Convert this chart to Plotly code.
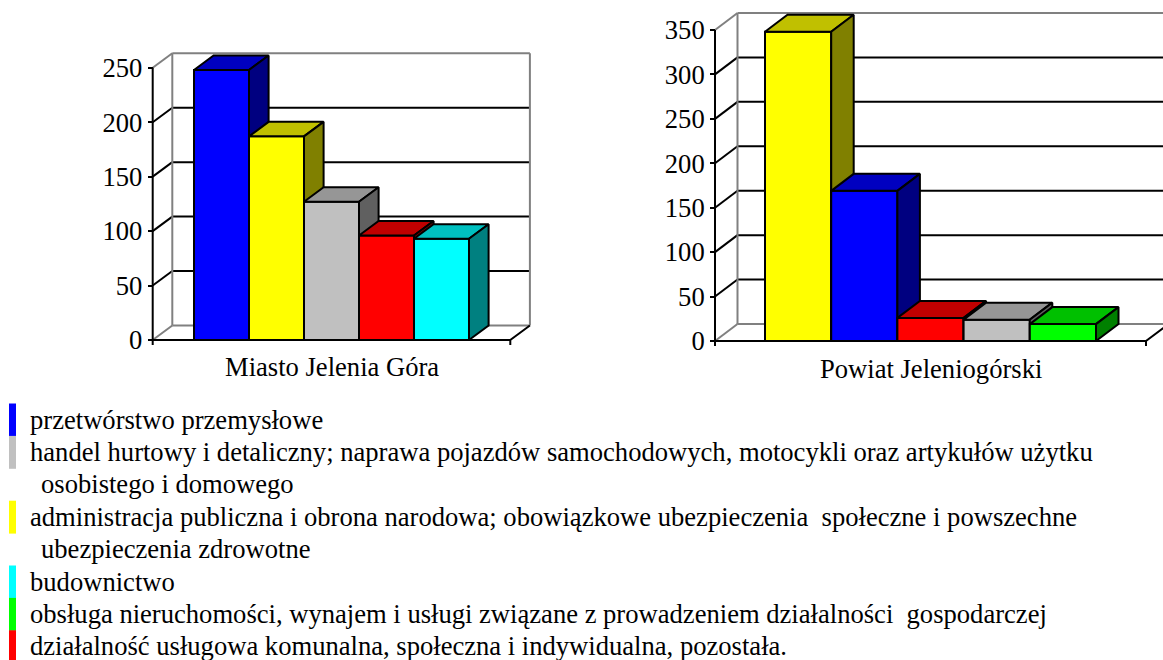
import plotly.graph_objects as go

W, H = 1163, 660

# ---------------- data ----------------
sektory = ["przemysl", "handel", "administracja", "budownictwo", "nieruchomosci", "uslugi"]
etykiety_legendy = [
    "przetwórstwo przemysłowe",
    "handel hurtowy i detaliczny; naprawa pojazdów samochodowych, motocykli oraz artykułów użytku\nosobistego i domowego",
    "administracja publiczna i obrona narodowa; obowiązkowe ubezpieczenia  społeczne i powszechne\nubezpieczenia zdrowotne",
    "budownictwo",
    "obsługa nieruchomości, wynajem i usługi związane z prowadzeniem działalności  gospodarczej",
    "działalność usługowa komunalna, społeczna i indywidualna, pozostała.",
]
kolor_przod = ["#0000FF", "#C0C0C0", "#FFFF00", "#00FFFF", "#00FF00", "#FF0000"]
kolor_gora = ["#0000C0", "#969696", "#C0C000", "#00C0C0", "#00C000", "#C00000"]
kolor_bok = ["#000080", "#606060", "#808000", "#008080", "#008000", "#800000"]

nazwy_wykresow = ["Miasto Jelenia Góra", "Powiat Jeleniogórski"]

miasto_sektory = ["przemysl", "administracja", "handel", "uslugi", "budownictwo"]
miasto_wartosci = [248, 187, 127, 96, 93]
miasto_ticki = [0, 50, 100, 150, 200, 250]

powiat_sektory = ["administracja", "przemysl", "uslugi", "handel", "nieruchomosci"]
powiat_wartosci = [348, 169, 26, 24, 19]
powiat_ticki = [0, 50, 100, 150, 200, 250, 300, 350]

# ---------------- geometry (pixels) ----------------
specs = [
    dict(ax_px=152.7, bar0=194.0, slot=55.0, zero=340.0, ppu=1.089, ddx_px=19.6, ddy_px=14.5, title_shift=-10),
    dict(ax_px=715.0, bar0=765.0, slot=66.2, zero=341.0, ppu=0.8886, ddx_px=22.5, ddy_px=17.0, title_shift=-11),
]
FONT = "Liberation Serif"
FS = 26.6
GREY = "#808080"
LW = 2

fig = go.Figure()
layout_axes = {}
annotations = []
shapes = []


def line(points, color, width, xa, ya):
    fig.add_trace(go.Scatter(
        x=[p[0] for p in points], y=[p[1] for p in points], mode="lines",
        line=dict(color=color, width=width), xaxis=xa, yaxis=ya,
        hoverinfo="skip", showlegend=False))


def poly(points, fill, xa, ya):
    pts = points + [points[0]]
    fig.add_trace(go.Scatter(
        x=[p[0] for p in pts], y=[p[1] for p in pts], mode="lines", fill="toself",
        fillcolor=fill, line=dict(color="black", width=LW), xaxis=xa, yaxis=ya,
        hoverinfo="skip", showlegend=False))


def chart(i, spec, sek, vals, ticks, nazwa):
    xa_name = "x" if i == 0 else "x%d" % (i + 1)
    ya_name = "y" if i == 0 else "y%d" % (i + 1)
    n = len(vals)
    slot, bar0, ppu, zero = spec["slot"], spec["bar0"], spec["ppu"], spec["zero"]
    gap = (bar0 - spec["ax_px"]) / slot
    xa, xe = -gap, n + gap
    ddx = spec["ddx_px"] / slot
    ddy = spec["ddy_px"] / ppu
    ymax = ticks[-1]

    lo_x = xa - 10 / slot
    hi_x = xe + ddx + 10 / slot
    px_lo = bar0 + slot * lo_x
    px_hi = bar0 + slot * hi_x
    if px_hi > W:
        px_hi = W
        hi_x = (W - bar0) / slot
    lo_y = -10 / ppu
    hi_y = ymax + ddy + 6 / ppu
    py_bot = zero - ppu * lo_y
    py_top = zero - ppu * hi_y

    # walls and grid
    for t in ticks:
        col = GREY if t in (ticks[0], ticks[-1]) else "black"
        line([(xa, t), (xa + ddx, t + ddy)], col, LW, xa_name, ya_name)
        if t not in (ticks[0], ticks[-1]):
            line([(xa + ddx, t + ddy), (xe + ddx, t + ddy)], "black", LW, xa_name, ya_name)
    line([(xa + ddx, ddy), (xa + ddx, ymax + ddy)], GREY, LW, xa_name, ya_name)
    line([(xa + ddx, ymax + ddy), (xe + ddx, ymax + ddy)], GREY, LW, xa_name, ya_name)
    line([(xa + ddx, ddy), (xe + ddx, ddy)], GREY, LW, xa_name, ya_name)
    line([(xe + ddx, ddy), (xe + ddx, ymax + ddy)], GREY, LW, xa_name, ya_name)

    # bars (front, top, side)
    for k, (s, v) in enumerate(zip(sek, vals)):
        ci = sektory.index(s)
        x0, x1 = k, k + 1
        poly([(x0, 0), (x1, 0), (x1, v), (x0, v)], kolor_przod[ci], xa_name, ya_name)
        poly([(x0, v), (x1, v), (x1 + ddx, v + ddy), (x0 + ddx, v + ddy)], kolor_gora[ci], xa_name, ya_name)
        poly([(x1, 0), (x1 + ddx, ddy), (x1 + ddx, v + ddy), (x1, v)], kolor_bok[ci], xa_name, ya_name)

    # front axes
    tick_d = 5 / ppu
    line([(xa, ymax), (xa, -tick_d)], "black", LW, xa_name, ya_name)
    line([(xa, 0), (xe, 0)], "black", LW, xa_name, ya_name)
    line([(xe, -tick_d), (xe, 0), (xe + ddx, ddy)], "black", LW, xa_name, ya_name)

    layout_axes["xaxis" if i == 0 else "xaxis%d" % (i + 1)] = dict(
        domain=[px_lo / W, px_hi / W], range=[lo_x, hi_x], visible=False,
        anchor=ya_name, fixedrange=True, automargin=False)
    layout_axes["yaxis" if i == 0 else "yaxis%d" % (i + 1)] = dict(
        domain=[1 - py_bot / H, 1 - py_top / H], range=[lo_y, hi_y],
        anchor="free", position=spec["ax_px"] / W, automargin=False,
        tickmode="array", tickvals=ticks, ticktext=[str(t) for t in ticks],
        ticks="outside", ticklen=5, tickwidth=LW, tickcolor="black",
        showgrid=False, zeroline=False, showline=False,
        tickfont=dict(family=FONT, size=FS, color="black"), fixedrange=True)

    annotations.append(dict(
        x=n / 2, y=0, xref=xa_name, yref=ya_name, text=nazwa, showarrow=False,
        xanchor="center", yanchor="top", yshift=spec["title_shift"],
        font=dict(family=FONT, size=FS, color="black")))


chart(0, specs[0], miasto_sektory, miasto_wartosci, miasto_ticki, nazwy_wykresow[0])
chart(1, specs[1], powiat_sektory, powiat_wartosci, powiat_ticki, nazwy_wykresow[1])

# ---------------- legend ----------------
row_top0, row_h = 403.5, 32.4
row = 0
for ci, lab in enumerate(etykiety_legendy):
    lines_ = lab.split("\n")
    top = row_top0 + row_h * row
    shapes.append(dict(type="rect", xref="paper", yref="paper",
                       x0=9 / W, x1=16 / W, y0=1 - top / H, y1=1 - (top + row_h + 0.5) / H,
                       fillcolor=kolor_przod[ci], line=dict(width=0), layer="above"))
    for j, ln in enumerate(lines_):
        t = row_top0 + row_h * row
        annotations.append(dict(
            x=(28 if j == 0 else 39) / W, y=1 - (t + 16) / H, xref="paper", yref="paper",
            text=ln.replace("  ", "\u00a0\u00a0"), showarrow=False,
            xanchor="left", yanchor="middle",
            font=dict(family=FONT, size=FS, color="black")))
        row += 1

fig.update_layout(
    width=W, height=H, margin=dict(l=0, r=0, t=0, b=0, autoexpand=False),
    paper_bgcolor="white", plot_bgcolor="rgba(0,0,0,0)",
    font=dict(family=FONT, color="black"),
    showlegend=False, annotations=annotations, shapes=shapes, **layout_axes)

fig.write_html("out.html", config={"displayModeBar": False},
               post_script="document.body.style.margin='0px';document.body.style.overflow='hidden';")
